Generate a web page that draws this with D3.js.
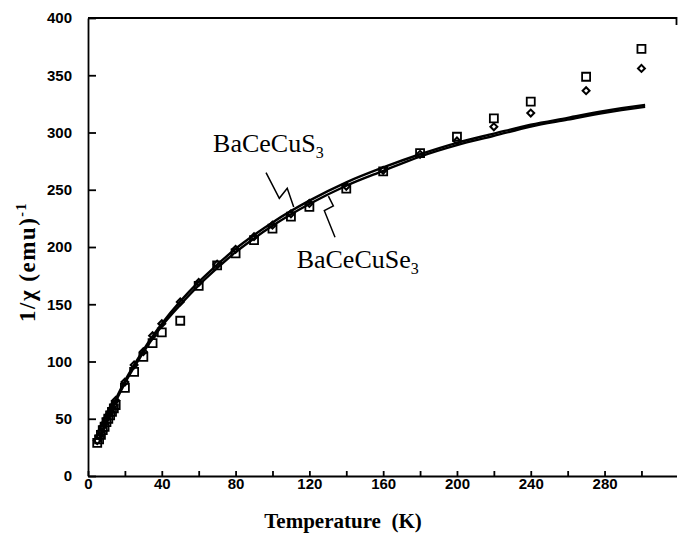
<!DOCTYPE html>
<html>
<head>
<meta charset="utf-8">
<script src="https://cdn.jsdelivr.net/npm/d3@7/dist/d3.min.js"></script>
<style>
  body { margin: 0; background: #fff; }
  .axis path, .axis line { stroke: #000; stroke-width: 1.8; }
  .axis text { font-family: "Liberation Sans", Arial, sans-serif; font-weight: bold; font-size: 15px; fill: #000; }
  .axisLabel { font-family: "Liberation Serif", "Times New Roman", serif; font-weight: bold; font-size: 21px; }
  .compound { font-family: "Liberation Serif", "Times New Roman", serif; font-size: 26px; }
</style>
</head>
<body>
<script>
var temps       = [5, 6, 7, 8, 9, 10, 11, 12, 13, 14, 15, 20, 25, 30, 35, 40, 50, 60, 70, 80, 90, 100, 110, 120, 140, 160, 180, 200, 220, 240, 270, 300];
var squareVals  = [29, 32, 36, 40, 43, 47, 50, 53, 56, 59, 62, 77, 91, 104, 116, 125.5, 135.6, 166, 184, 194.5, 206, 216, 226.5, 235, 251, 266, 282, 296.3, 312.4, 327, 348.7, 373];
var diamondVals = [31, 35, 39, 43, 46, 50, 53, 56, 59, 62, 66, 82, 97, 108.6, 122.5, 133, 152, 169, 185, 198, 209, 219, 229, 238, 253, 267, 281, 292.6, 305, 317, 336.5, 356];

// the two fitted curves
var fitTemps = [6, 10, 15, 20, 25, 30, 35, 40, 50, 60, 70, 80, 90, 100, 120, 140, 160, 180, 200, 220, 240, 260, 280, 302];
var fitS     = [33, 49, 67, 83, 97, 110, 122, 133, 152.5, 169.5, 184.5, 198.5, 210.5, 221.5, 240.5, 256.5, 269.5, 281, 291, 299, 306.8, 312.8, 318.8, 324];
var fitSe    = [31, 47, 65, 81, 95, 108, 120, 131, 149.5, 166.5, 181.5, 195.5, 207.5, 218.5, 237.5, 253.5, 266.5, 279, 289, 297, 305.2, 311.2, 317.2, 322.4];

// ticks
var xTickValues = [0, 20, 40, 60, 80, 100, 120, 140, 160, 180, 200, 220, 240, 260, 280, 300];
var xTickLabels = [0, 40, 80, 120, 160, 200, 240, 280];
var yTickValues = [0, 50, 100, 150, 200, 250, 300, 350, 400];

// annotation pointers (in data units)
var pointerS  = [[96.5, 265], [103.7, 242.5], [108, 251.3], [111.5, 235]];
var pointerSe = [[130.3, 244.5], [133, 235.8], [128.1, 231.7], [133.9, 208.5]];

var width = 678, height = 538;
var svg = d3.select("body").append("svg")
  .attr("width", width)
  .attr("height", height);

var x = d3.scaleLinear().domain([0, 319]).range([88, 676.5]);
var y = d3.scaleLinear().domain([0, 400]).range([476, 18]);

// axes, ticks pointing inward
var xAxis = d3.axisBottom(x)
  .tickValues(xTickValues)
  .tickSizeInner(-5)
  .tickSizeOuter(0)
  .tickPadding(2)
  .tickFormat(function(d) { return xTickLabels.indexOf(d) >= 0 ? d : ""; });

var yAxis = d3.axisLeft(y)
  .tickValues(yTickValues)
  .tickSizeInner(-8)
  .tickSizeOuter(0)
  .tickPadding(16);

svg.append("g")
  .attr("class", "axis")
  .attr("transform", "translate(0," + y(0) + ")")
  .call(xAxis);

svg.append("g")
  .attr("class", "axis")
  .attr("transform", "translate(" + x(0) + ",0)")
  .call(yAxis);

// top frame line with short tick at the right end
svg.append("path")
  .attr("d", "M" + x(0) + "," + y(400) + "H" + x(319) + "v7")
  .attr("fill", "none")
  .attr("stroke", "#000")
  .attr("stroke-width", 1.8);

// axis titles
svg.append("text")
  .attr("class", "axisLabel")
  .attr("x", 343)
  .attr("y", 528)
  .attr("text-anchor", "middle")
  .attr("xml:space", "preserve")
  .text("Temperature  (K)");

var yl = svg.append("text")
  .attr("class", "axisLabel")
  .attr("transform", "translate(35,262) rotate(-90)")
  .attr("text-anchor", "middle")
  .style("font-size", "23px")
  .style("letter-spacing", "1.5px");
yl.append("tspan").text("1/\u03C7 (emu)");
yl.append("tspan").attr("dy", -9).style("font-size", "14px").text("-1");

// markers (open, so dense low-T points pile up into a solid band)
var sq = d3.symbol().type(d3.symbolSquare).size(64);
var dm = d3.symbol().type(d3.symbolSquare).size(24);

svg.selectAll(".sq")
  .data(temps)
  .enter()
  .append("path")
  .attr("class", "sq")
  .attr("d", sq)
  .attr("transform", function(d, i) { return "translate(" + x(d) + "," + y(squareVals[i]) + ")"; })
  .attr("fill", "none")
  .attr("stroke", "#000")
  .attr("stroke-width", 1.8);

svg.selectAll(".dm")
  .data(temps)
  .enter()
  .append("path")
  .attr("class", "dm")
  .attr("d", dm)
  .attr("transform", function(d, i) { return "translate(" + x(d) + "," + y(diamondVals[i]) + ") rotate(45)"; })
  .attr("fill", "none")
  .attr("stroke", "#000")
  .attr("stroke-width", 2);

// fitted curves
var line = d3.line()
  .x(function(d) { return x(d[0]); })
  .y(function(d) { return y(d[1]); })
  .curve(d3.curveMonotoneX);

[fitS, fitSe].forEach(function(vals) {
  svg.append("path")
    .attr("d", line(fitTemps.map(function(t, i) { return [t, vals[i]]; })))
    .attr("fill", "none")
    .attr("stroke", "#000")
    .attr("stroke-width", 2.4);
});

// compound labels and pointers
var pointer = d3.line()
  .x(function(d) { return x(d[0]); })
  .y(function(d) { return y(d[1]); });

[pointerS, pointerSe].forEach(function(p) {
  svg.append("path")
    .attr("d", pointer(p))
    .attr("fill", "none")
    .attr("stroke", "#000")
    .attr("stroke-width", 1.5);
});

var tS = svg.append("text")
  .attr("class", "compound")
  .attr("x", x(67.8))
  .attr("y", y(283.2));
tS.append("tspan").text("BaCeCuS");
tS.append("tspan").attr("dy", 6).style("font-size", "16px").text("3");

var tSe = svg.append("text")
  .attr("class", "compound")
  .attr("x", x(113.1))
  .attr("y", y(181.4));
tSe.append("tspan").text("BaCeCuSe");
tSe.append("tspan").attr("dy", 6).style("font-size", "16px").text("3");
</script>
</body>
</html>
